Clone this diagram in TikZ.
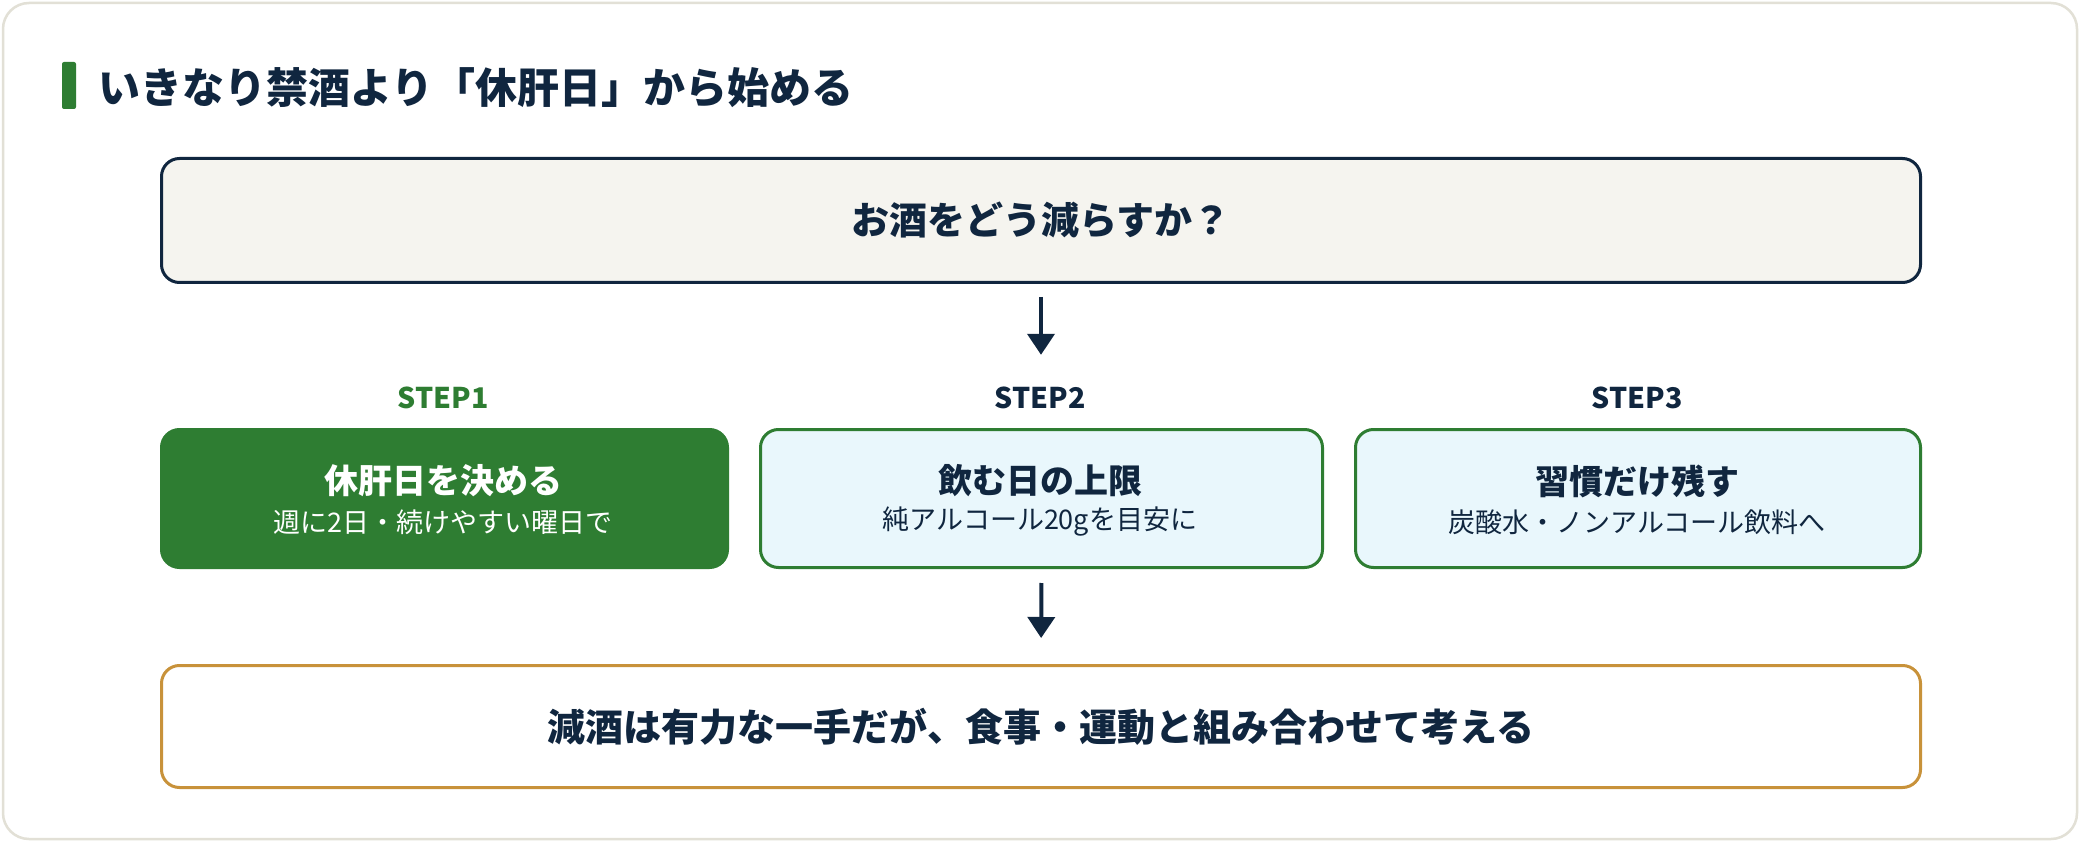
\documentclass[tikz,border=0pt]{standalone}
\usepackage{fontspec}
\setmainfont{Noto Sans CJK JP}
\usetikzlibrary{arrows.meta}
\definecolor{navy}{HTML}{10263F}
\definecolor{grn}{HTML}{2E7D32}
\definecolor{cyanbg}{HTML}{E9F7FC}
\definecolor{gold}{HTML}{C8923A}
\definecolor{cream}{HTML}{F5F4EF}
\definecolor{cardline}{HTML}{E2E0D6}
\tikzset{
  box/.style={draw, line width=3pt, rounded corners=18pt, anchor=north west, inner sep=0pt},
  lbl/.style={text=navy, font=\bfseries\fontsize{28.5}{32}\selectfont, inner sep=0pt},
  ttl/.style={font=\bfseries\fontsize{34}{38}\selectfont, inner sep=0pt},
  sub/.style={font=\fontsize{27}{30}\selectfont, inner sep=0pt},
  arr/.style={draw=navy, line width=4pt, -{Triangle[length=21pt,width=27pt]}},
}
\begin{document}
\begin{tikzpicture}[x=1pt,y=-1pt]
\useasboundingbox (0,0) rectangle (2080,842);
\fill[white] (0,0) rectangle (2080,842);
\draw[cardline, line width=2.5pt, fill=white, rounded corners=26pt] (3,3) rectangle (2077,839);
% title
\fill[grn, rounded corners=2pt] (62,62) rectangle (76,109);
\node[anchor=west, text=navy, font=\bfseries\fontsize{42}{48}\selectfont, inner sep=0pt] (title) at (98,88) {いきなり禁酒より「休肝日」から始める};
% question box
\node[box, draw=navy, fill=cream, minimum width=1759pt, minimum height=124pt] (q) at (160,157) {};
\node[text=navy, font=\bfseries\fontsize{38}{42}\selectfont, inner sep=0pt] (qt) at (q.center) {お酒をどう減らすか？};
% step labels
\node[lbl, text=grn] (l1) at (443,398) {STEP1};
\node[lbl] (l2) at (1040,398) {STEP2};
\node[lbl] (l3) at (1637,398) {STEP3};
% step boxes
\node[box, draw=grn, fill=grn, minimum width=566pt, minimum height=138pt] (b1) at (160,428) {};
\node[box, draw=grn, fill=cyanbg, minimum width=562pt, minimum height=138pt] (b2) at (759,428) {};
\node[box, draw=grn, fill=cyanbg, minimum width=565pt, minimum height=138pt] (b3) at (1354,428) {};
\node[ttl, text=white] (t1) at (443,481) {休肝日を決める};
\node[sub, text=white] (s1) at (443,522) {週に2日・続けやすい曜日で};
\node[ttl, text=navy] (t2) at (1040,481) {飲む日の上限};
\node[sub, text=navy] (s2) at (1040,522) {純アルコール20gを目安に};
\node[ttl, text=navy] (t3) at (1637,481) {習慣だけ残す};
\node[sub, text=navy] (s3) at (1637,522) {炭酸水・ノンアルコール飲料へ};
% bottom box
\node[box, draw=gold, fill=white, minimum width=1759pt, minimum height=122pt] (c) at (160,664) {};
\node[text=navy, font=\bfseries\fontsize{38}{42}\selectfont, inner sep=0pt] (ct) at (c.center) {減酒は有力な一手だが、食事・運動と組み合わせて考える};
% arrows
\draw[arr, shorten <=13pt, shorten >=32pt] (q.south) -- (q.south |- l2.north);
\draw[arr, shorten <=14pt, shorten >=26pt] (b2.south) -- (c.north);
\end{tikzpicture}
\end{document}
